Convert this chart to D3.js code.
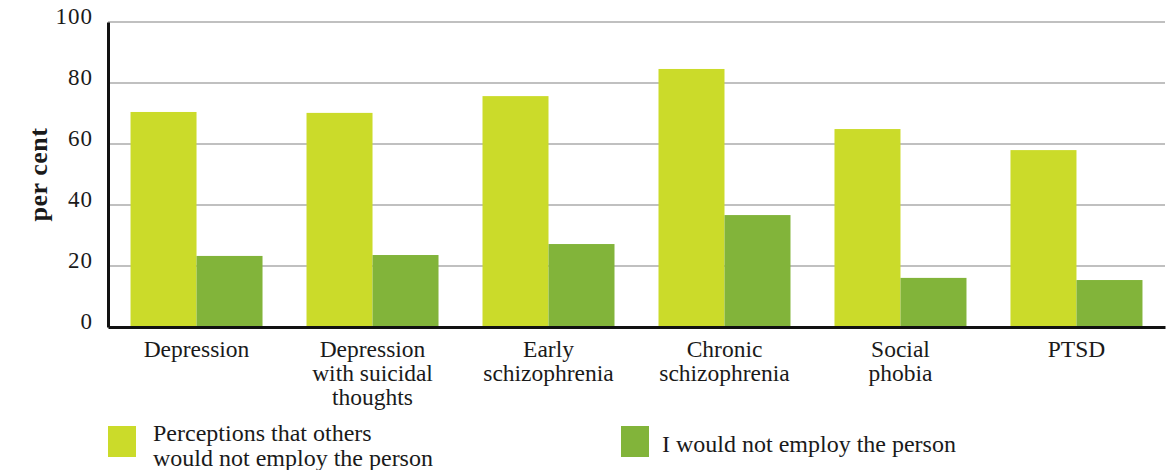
<!DOCTYPE html>
<html>
<head>
<meta charset="utf-8">
<script src="https://cdn.jsdelivr.net/npm/d3@7"></script>
<style>
  body { margin: 0; background: #fff; }
  text { font-family: "Liberation Serif", "DejaVu Serif", serif; fill: #1a1a1a; }
</style>
</head>
<body>
<script>
// data
var categories = [
  ["Depression"],
  ["Depression", "with suicidal", "thoughts"],
  ["Early", "schizophrenia"],
  ["Chronic", "schizophrenia"],
  ["Social", "phobia"],
  ["PTSD"]
];
var perceptions = [70.5, 70.2, 75.7, 84.6, 64.9, 58.0];
var wouldNot = [23.3, 23.6, 27.2, 36.7, 16.1, 15.4];
var seriesNames = ["Perceptions that others\nwould not employ the person", "I would not employ the person"];
var yTicks = [0, 20, 40, 60, 80, 100];

var colors = ["#cbdb2a", "#82b43a"];

var width = 1172, height = 470;
var margin = {top: 22, right: 7, bottom: 143, left: 108};

var svg = d3.select("body").append("svg")
  .attr("width", width)
  .attr("height", height);

var x = d3.scaleBand()
  .domain(d3.range(categories.length))
  .range([margin.left, width - margin.right])
  .paddingInner(0.25)
  .paddingOuter(0.128);

var sub = d3.scaleBand()
  .domain([0, 1])
  .range([0, x.bandwidth()]);

var y = d3.scaleLinear()
  .domain([0, 100])
  .range([height - margin.bottom, margin.top]);

// gridlines
svg.append("g")
  .selectAll("line")
  .data(yTicks.filter(function(d) { return d > 0; }))
  .enter().append("line")
  .attr("x1", margin.left)
  .attr("x2", width - margin.right)
  .attr("y1", function(d) { return y(d); })
  .attr("y2", function(d) { return y(d); })
  .attr("stroke", "#ababab")
  .attr("stroke-width", 1.5);

// bars
var series = [perceptions, wouldNot];
series.forEach(function(vals, s) {
  svg.append("g")
    .selectAll("rect")
    .data(vals)
    .enter().append("rect")
    .attr("x", function(d, i) { return x(i) + sub(s); })
    .attr("y", function(d) { return y(d); })
    .attr("width", sub.bandwidth())
    .attr("height", function(d) { return y(0) - y(d); })
    .attr("fill", colors[s]);
});

// y axis
var yAxis = svg.append("g")
  .attr("transform", "translate(" + margin.left + ",0)")
  .call(d3.axisLeft(y).tickValues(yTicks).tickSize(0).tickPadding(15));
yAxis.select(".domain").attr("stroke", "#111").attr("stroke-width", 3);
yAxis.selectAll("text")
  .style("font-size", "23px")
  .style("font-family", "'Liberation Serif', serif")
  .style("letter-spacing", "1px")
  .attr("fill", "#1a1a1a")
  .attr("dy", "0.05em");

// x axis
var xAxis = svg.append("g")
  .attr("transform", "translate(0," + y(0) + ")")
  .call(d3.axisBottom(x).tickSize(0).tickFormat(""));
xAxis.select(".domain").attr("stroke", "#111").attr("stroke-width", 3);

// category labels
categories.forEach(function(lines, i) {
  var t = svg.append("text")
    .attr("text-anchor", "middle")
    .style("font-size", "23.5px");
  lines.forEach(function(line, j) {
    t.append("tspan")
      .attr("x", x(i) + x.bandwidth() / 2)
      .attr("y", 357 + j * 24)
      .text(line);
  });
});

// y axis title
svg.append("text")
  .attr("transform", "translate(47," + ((margin.top + y(0)) / 2) + ") rotate(-90)")
  .attr("text-anchor", "middle")
  .style("font-size", "26px")
  .style("font-weight", "bold")
  .style("letter-spacing", "0.5px")
  .text("per cent");

// legend
var legendPos = [{x: 108, tx: 153, ty: 441}, {x: 621, tx: 662, ty: 452}];
seriesNames.forEach(function(name, s) {
  svg.append("rect")
    .attr("x", legendPos[s].x)
    .attr("y", 426)
    .attr("width", 28)
    .attr("height", 31)
    .attr("fill", colors[s]);
  var t = svg.append("text").style("font-size", "24px");
  name.split("\n").forEach(function(line, j) {
    t.append("tspan")
      .attr("x", legendPos[s].tx)
      .attr("y", legendPos[s].ty + j * 25)
      .text(line);
  });
});
</script>
</body>
</html>
